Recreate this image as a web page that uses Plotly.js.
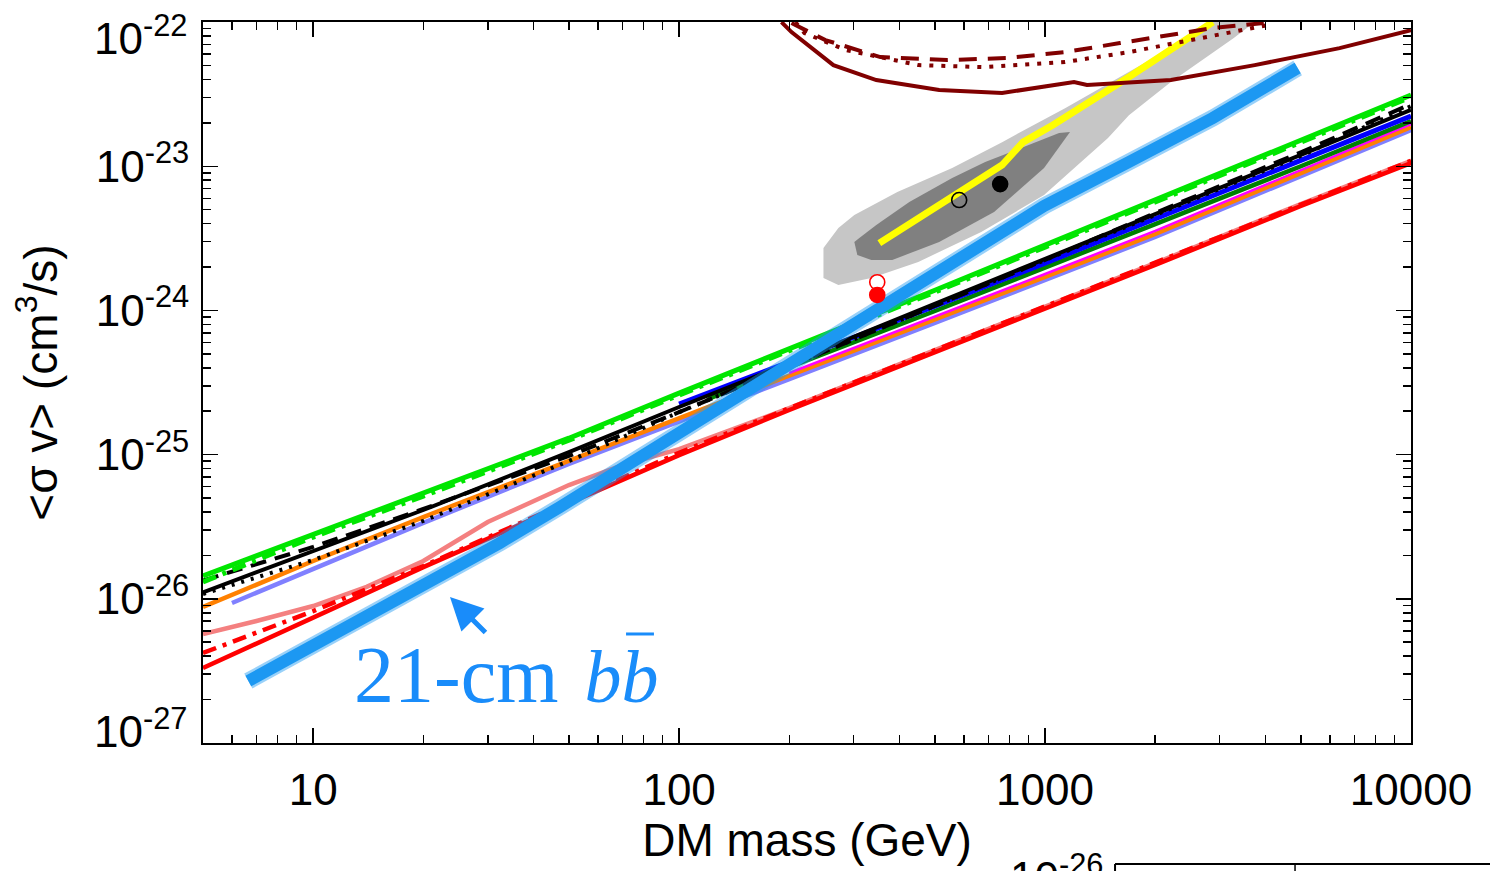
<!DOCTYPE html>
<html>
<head>
<meta charset="utf-8">
<script src="https://cdn.plot.ly/plotly-3.0.1.min.js"></script>
<style>html,body{margin:0;padding:0;background:#fff;}#chart{width:1490px;height:871px;}</style>
</head>
<body>
<div id="chart"></div>
<script>
// ---- data ----
const massGrid = [5, 10, 20, 50, 100, 200, 500, 1000, 2000, 5000, 10000];

const greenSolid   = [1.44e-26, 2.81e-26, 5.42e-26, 1.30e-25, 2.67e-25, 5.40e-25, 1.38e-24, 2.84e-24, 5.83e-24, 1.50e-23, 3.12e-23];
const greenDashDot = [1.31e-26, 2.68e-26, 5.16e-26, 1.26e-25, 2.59e-25, 5.22e-25, 1.34e-24, 2.75e-24, 5.65e-24, 1.45e-23, 3.02e-23];
const blackDashed  = [1.34e-26, 2.29e-26, 4.20e-26, 9.80e-26, 1.97e-25, 4.11e-25, 1.07e-24, 2.24e-24, 4.74e-24, 1.25e-23, 2.70e-23];
const blackDotted  = [1.08e-26, 1.86e-26, 3.47e-26, 9.03e-26, 1.97e-25, 4.11e-25, 1.09e-24, 2.24e-24, 4.59e-24, 1.18e-23, 2.61e-23];
const blackSolid   = [1.11e-26, 2.15e-26, 4.13e-26, 1.04e-25, 2.14e-25, 4.32e-25, 1.12e-24, 2.27e-24, 4.66e-24, 1.20e-23, 2.46e-23];
const orangeSolid  = [8.77e-27, 1.83e-26, 3.69e-26, 9.03e-26, 1.79e-25, 3.51e-25, 8.57e-25, 1.71e-24, 3.39e-24, 8.97e-24, 1.87e-23];
const redSolid     = [3.31e-27, 7.36e-27, 1.66e-26, 4.61e-26, 9.93e-26, 2.04e-25, 5.15e-25, 1.02e-24, 2.07e-24, 5.30e-24, 1.05e-23];
const redDashDot   = [4.21e-27, 8.22e-27, 1.69e-26, 4.76e-26, 1.03e-25, 2.10e-25, 5.31e-25, 1.06e-24, 2.13e-24, 5.47e-24, 1.09e-23];

const pinkMass  = [5, 7, 10, 14, 20, 30, 50, 70, 100, 200, 500, 1000, 2000, 5000, 10000];
const pinkSolid = [5.70e-27, 7.01e-27, 8.91e-27, 1.21e-26, 1.83e-26, 3.41e-26, 6.15e-26, 8.47e-26, 1.09e-25, 2.10e-25, 5.31e-25, 1.06e-24, 2.13e-24, 5.47e-24, 1.09e-23];

const lavenderMass = [6, 10, 20, 50, 100, 200, 500, 1000, 2000, 5000, 10000];
const lavender     = [9.36e-27, 1.61e-26, 3.36e-26, 8.61e-26, 1.71e-25, 3.34e-25, 8.18e-25, 1.63e-24, 3.23e-24, 8.55e-24, 1.78e-23];

const blueMass  = [100, 200, 500, 1000, 2000, 5000, 10000];
const blueSolid = [2.24e-25, 4.38e-25, 1.07e-24, 2.13e-24, 4.31e-24, 1.10e-23, 2.23e-23];
const dkGreenMass = [120, 200, 500, 1000, 2000, 5000, 10000];
const dkGreen     = [2.43e-25, 4.05e-25, 9.91e-25, 1.97e-24, 3.97e-24, 1.00e-23, 2.06e-23];
const magentaMass = [200, 500, 1000, 2000, 5000, 10000];
const magenta     = [3.68e-25, 9.00e-25, 1.79e-24, 3.56e-24, 9.41e-24, 1.96e-23];

// 21-cm b-bbar band (centre line)
const band21Mass = [6.65, 9.21, 12.62, 17.28, 23.65, 32.37, 47.2, 68.8, 100.3, 188.1, 345.8, 586.3, 993.8, 1695, 2873, 4901];
const band21SV   = [2.69e-27, 4.21e-27, 6.37e-27, 9.81e-27, 1.51e-26, 2.44e-26, 4.33e-26, 7.82e-26, 1.43e-25, 3.86e-25, 9.91e-25, 2.35e-24, 5.30e-24, 1.07e-23, 2.16e-23, 4.80e-23];

// dark-red curves near the top
const dkRedSolidMass = [190.4, 202.8, 264.0, 345.8, 513.7, 763.1, 1200, 1302, 2207, 3741, 6381, 10000];
const dkRedSolid     = [1.0e-22, 8.52e-23, 5.03e-23, 3.96e-23, 3.38e-23, 3.22e-23, 3.84e-23, 3.66e-23, 3.96e-23, 5.03e-23, 6.60e-23, 8.80e-23];
const dkRedDashMass  = [202.8, 251.0, 354.7, 540.2, 782.5, 1134, 1602, 2152, 2873, 3960];
const dkRedDash      = [9.84e-23, 7.50e-23, 5.72e-23, 5.45e-23, 5.63e-23, 6.19e-23, 7.15e-23, 8.13e-23, 9.09e-23, 9.84e-23];
const dkRedDotMass   = [207.9, 220.0, 286.4, 450.4, 686, 1134, 1695, 2518, 3741, 4059];
const dkRedDot       = [1.0e-22, 8.39e-23, 6.39e-23, 5.03e-23, 4.87e-23, 5.28e-23, 6.19e-23, 7.50e-23, 9.09e-23, 9.53e-23];

// grey confidence regions and yellow best-fit line
const lightGreyMass = [248.0, 272.4, 301.2, 394.8, 557.5, 763.1, 1134, 1695, 2207, 2873, 3741, 3279, 2207, 1695, 1486, 993.8, 669.2, 450.4, 335.2, 272.4, 248.0];
const lightGreySV   = [2.71e-24, 3.73e-24, 4.59e-24, 6.62e-24, 9.72e-24, 1.47e-23, 2.53e-23, 4.50e-23, 6.60e-23, 1.0e-22, 1.0e-22, 7.75e-23, 3.84e-23, 2.26e-23, 1.57e-23, 6.31e-24, 3.50e-24, 2.17e-24, 1.68e-24, 1.50e-24, 1.68e-24];
const darkGreyMass  = [301.2, 306.9, 335.2, 382.4, 513.7, 725.7, 993.8, 1170, 1092, 871, 686, 557.5, 425.6, 345.8, 310.8];
const darkGreySV    = [2.98e-24, 2.42e-24, 2.24e-24, 2.24e-24, 2.98e-24, 4.81e-24, 9.72e-24, 1.73e-23, 1.70e-23, 1.36e-23, 1.07e-23, 8.28e-24, 5.65e-24, 3.91e-24, 3.18e-24];
const yellowMass = [352.5, 526.8, 763.1, 871, 1051, 1695, 2873];
const yellowSV   = [2.93e-24, 5.65e-24, 1.02e-23, 1.47e-23, 1.93e-23, 4.16e-23, 1.0e-22];

// best-fit points
const blackOpenPt   = {m: [582.6], sv: [5.83e-24]};
const blackFilledPt = {m: [753.9], sv: [7.52e-24]};
const redOpenPt     = {m: [347.9], sv: [1.57e-24]};
const redFilledPt   = {m: [347.9], sv: [1.28e-24]};

const xTickVals = [10, 100, 1000, 10000];
const xTickText = ['10', '100', '1000', '10000'];
const yTickVals = [1e-27, 1e-26, 1e-25, 1e-24, 1e-23, 1e-22];
const yTickExp  = ['-27', '-26', '-25', '-24', '-23', '-22'];
// end labels (10^-27, 10^-22) are nudged inward, as in the original, so they are drawn separately
const yTickText = yTickExp.map((e, i) => (i === 0 || i === yTickExp.length - 1) ? '' : '10<sup>' + e + '</sup>');

// ---- traces ----
function ln(x, y, color, width, dash) {
  return {type: 'scatter', mode: 'lines', x: x, y: y, hoverinfo: 'skip',
          line: {color: color, width: width, dash: dash || 'solid'}, showlegend: false};
}
function poly(x, y, color) {
  return {type: 'scatter', mode: 'lines', x: x, y: y, fill: 'toself', fillcolor: color,
          line: {width: 0, color: color}, hoverinfo: 'skip', showlegend: false};
}
function pt(p, color, fill) {
  return {type: 'scatter', mode: 'markers', x: p.m, y: p.sv, hoverinfo: 'skip', showlegend: false,
          marker: {size: 15, color: fill, symbol: 'circle', line: {color: color, width: 1.6}}};
}

const traces = [
  poly(lightGreyMass, lightGreySV, '#c6c6c6'),
  poly(darkGreyMass, darkGreySV, '#808080'),
  ln(yellowMass, yellowSV, '#ffff00', 7),
  ln(pinkMass, pinkSolid, '#f48080', 4.5),
  ln(massGrid, redSolid, '#ff0000', 4.5),
  ln(massGrid, redDashDot, '#ff0000', 4.5, '14px,7px,4px,7px'),
  ln(lavenderMass, lavender, '#8080ff', 4.5),
  ln(massGrid, orangeSolid, '#ff8000', 4.5),
  ln(magentaMass, magenta, '#ff00ff', 2.5),
  ln(dkGreenMass, dkGreen, '#008000', 4.5),
  ln(blueMass, blueSolid, '#0000ff', 5),
  ln(massGrid, blackSolid, '#000000', 4),
  ln(massGrid, blackDotted, '#000000', 4, '3px,7px'),
  ln(massGrid, blackDashed, '#000000', 4, '16px,9px'),
  ln(massGrid, greenDashDot, '#00e600', 5, '14px,7px,4px,7px'),
  ln(massGrid, greenSolid, '#00e600', 5),
  ln(band21Mass, band21SV, 'rgba(28,152,242,0.45)', 17),
  ln(band21Mass, band21SV, 'rgb(28,152,242)', 12),
  ln(dkRedSolidMass, dkRedSolid, '#800000', 4),
  ln(dkRedDashMass, dkRedDash, '#800000', 4, '18px,11px'),
  ln(dkRedDotMass, dkRedDot, '#800000', 4, '4px,8px'),
  pt(blackOpenPt, '#000000', 'rgba(0,0,0,0)'),
  pt(blackFilledPt, '#000000', '#000000'),
  pt(redOpenPt, '#ff0000', '#ffffff'),
  pt(redFilledPt, '#ff0000', '#ff0000')
];

const axisFont = {family: 'Liberation Sans, Arial, sans-serif', size: 44, color: '#000'};
const xMinor = [6,7,8,9,20,30,40,50,60,70,80,90,200,300,400,500,600,700,800,900,2000,3000,4000,5000,6000,7000,8000,9000];
const yMinor = [];
[-27,-26,-25,-24,-23].forEach(e => { for (let k = 2; k <= 9; k++) yMinor.push(k * Math.pow(10, e)); });

const layout = {
  width: 1490, height: 871,
  margin: {l: 203, r: 79, t: 22, b: 128, pad: 0},
  paper_bgcolor: '#fff', plot_bgcolor: '#fff',
  font: axisFont,
  showlegend: false,
  xaxis: {
    type: 'log', range: [Math.log10(5), 4],
    showline: true, linecolor: '#000', linewidth: 2, mirror: 'allticks',
    ticks: 'inside', ticklen: 15, tickwidth: 1.5, tickcolor: '#000',
    tickvals: xTickVals, ticktext: xTickText, tickfont: axisFont, ticklabelstandoff: 7,
    ticklabeloverflow: 'allow',
    showgrid: false, zeroline: false,
    minor: {ticks: 'inside', ticklen: 8, tickwidth: 1.5, tickcolor: '#000', tickvals: xMinor, showgrid: false},
    title: {text: 'DM mass (GeV)', font: {family: 'Liberation Sans, Arial, sans-serif', size: 46, color: '#000'}, standoff: 6}
  },
  yaxis: {
    type: 'log', range: [-27, -21.9995],
    showline: true, linecolor: '#000', linewidth: 2, mirror: 'allticks',
    ticks: 'inside', ticklen: 15, tickwidth: 1.5, tickcolor: '#000',
    tickvals: yTickVals, ticktext: yTickText, tickfont: axisFont, ticklabelstandoff: 3,
    ticklabeloverflow: 'allow',
    showgrid: false, zeroline: false,
    minor: {ticks: 'inside', ticklen: 8, tickwidth: 1.5, tickcolor: '#000', tickvals: yMinor, showgrid: false},
    title: {text: '&lt;σ v&gt; (cm<sup>3</sup>/s)', font: {family: 'Liberation Sans, Arial, sans-serif', size: 46, color: '#000'}, standoff: 24}
  },
  annotations: [
    {x: -0.0116, y: 0.9806, xref: 'paper', yref: 'paper', xanchor: 'right', yanchor: 'middle',
     text: '10<sup>' + yTickExp[yTickExp.length - 1] + '</sup>', showarrow: false, font: axisFont},
    {x: -0.0116, y: 0.0208, xref: 'paper', yref: 'paper', xanchor: 'right', yanchor: 'middle',
     text: '10<sup>' + yTickExp[0] + '</sup>', showarrow: false, font: axisFont},
    {x: Math.log10(12.78), y: Math.log10(2.96e-27), xref: 'x', yref: 'y', xanchor: 'left', yanchor: 'middle',
     text: '21-cm <span style="font-size:74px">\u200A<i>bb</i></span>', showarrow: false,
     font: {family: 'Liberation Serif, DejaVu Serif, serif', size: 80, color: 'rgb(25,140,250)'}},
    {x: Math.log10(23.65), y: Math.log10(1.03e-26), xref: 'x', yref: 'y', text: ' ', showarrow: true,
     ax: 43, ay: 43, arrowhead: 2, arrowsize: 1.3, arrowwidth: 5, arrowcolor: 'rgb(25,140,250)'},
    {x: 0.7467, y: -0.183, xref: 'paper', yref: 'paper', xanchor: 'right', yanchor: 'middle',
     text: '10<sup>-26</sup>', showarrow: false, font: axisFont}
  ],
  shapes: [
    {type: 'line', xref: 'paper', yref: 'paper', x0: 0.3502, x1: 0.3733, y0: 0.1512, y1: 0.1512,
     line: {color: 'rgb(25,140,250)', width: 3}},
    {type: 'line', xref: 'paper', yref: 'paper', x0: 0.755, x1: 1.07, y0: -0.1678, y1: -0.1678, line: {color: '#000', width: 2}},
    {type: 'line', xref: 'paper', yref: 'paper', x0: 0.755, x1: 0.755, y0: -0.1678, y1: -0.19, line: {color: '#000', width: 2}},
    {type: 'line', xref: 'paper', yref: 'paper', x0: 0.904, x1: 0.904, y0: -0.1678, y1: -0.19, line: {color: '#000', width: 1.5}}
  ]
};

Plotly.newPlot('chart', traces, layout, {displayModeBar: false, staticPlot: true});
</script>
</body>
</html>
